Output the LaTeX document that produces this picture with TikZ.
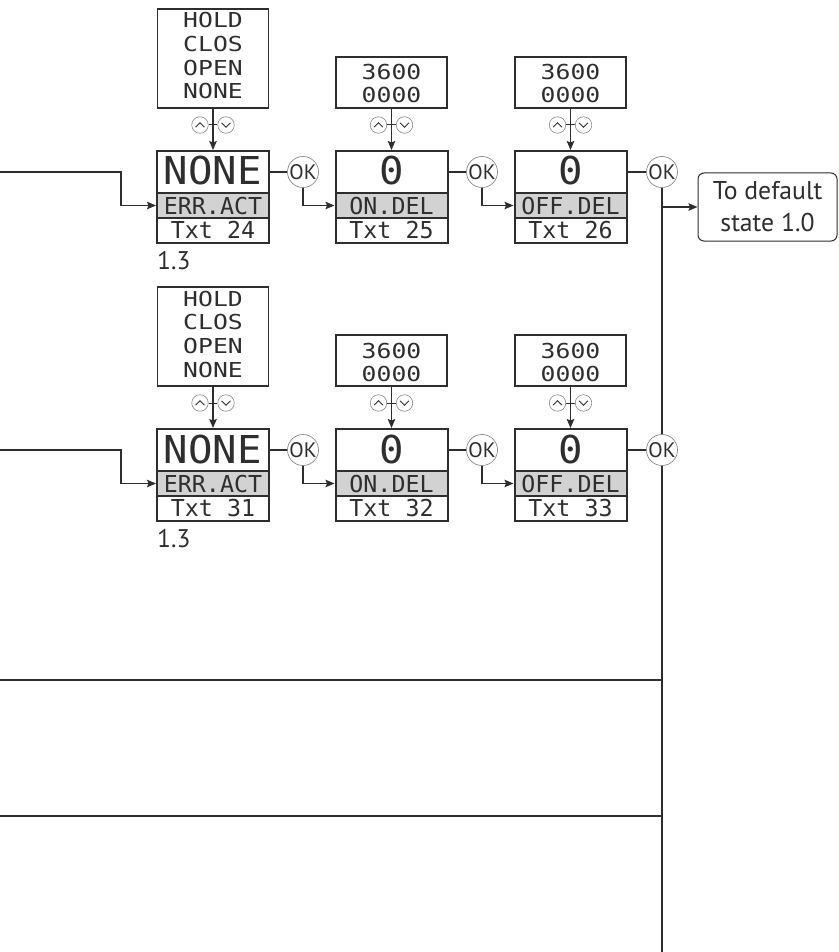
\documentclass[tikz,border=0pt]{standalone}
\usepackage{fontspec}
\setmainfont{PT Sans}
\newfontfamily\lcdwide{DejaVu Sans Mono}[FakeStretch=1.2]
\newfontfamily\lcdbig{DejaVu Sans Mono}[FakeStretch=1.06]
\newfontfamily\lcdmid{DejaVu Sans Mono}
\usetikzlibrary{arrows.meta,calc}
\definecolor{ink}{HTML}{2E2E2E}
\definecolor{lblgray}{HTML}{D2D2D2}
\definecolor{ringgray}{HTML}{8A8A8A}
\tikzset{
  conn/.style={draw=ink, line width=1.3pt},
  arrowline/.style={conn, -{Stealth[length=9pt,width=7.5pt,inset=1.5pt]}},
  optbox/.style={draw=ink, line width=1.2pt, minimum width=111pt, inner sep=0pt, fill=white},
  opttext/.style={anchor=base, inner sep=0pt, text=ink, font=\lcdwide\fontsize{20.6}{24}\selectfont},
  dispbox/.style={draw=ink, line width=2pt, minimum width=112pt, inner sep=0pt, text=ink},
  valbox/.style={dispbox, fill=white, text height=34pt, text depth=8pt, font=\lcdbig\fontsize{38.4}{40}\selectfont},
  lblbox/.style={dispbox, fill=lblgray, text height=21pt, text depth=4pt, font=\lcdmid\fontsize{23.3}{26}\selectfont},
  txtbox/.style={dispbox, fill=white, text height=20pt, text depth=5pt, font=\lcdmid\fontsize{23.3}{26}\selectfont},
  okc/.style={circle, draw=ringgray, line width=0.7pt, fill=white, minimum size=31pt, inner sep=0pt, text=ink, font=\fontsize{21}{22}\selectfont},
  btn/.style={circle, draw=ringgray, line width=0.6pt, fill=white, minimum size=16.5pt, inner sep=0pt},
  chev/.style={draw=ink, line width=0.8pt},
  steplabel/.style={anchor=base west, inner sep=0pt, text=ink, font=\fontsize{25.5}{28}\selectfont},
  defbox/.style={draw=ink, line width=1pt, rounded corners=6pt, minimum width=139pt, minimum height=68pt, inner sep=0pt, align=center, text=ink, font=\fontsize{25.7}{32}\selectfont}
}
\begin{document}
\begin{tikzpicture}[x=1pt,y=-1pt]
\useasboundingbox (0,0) rectangle (838,952);
\fill[white] (0,0) rectangle (838,952);

\foreach \r/\dy/\na/\nb/\nc in {a/0/24/25/26, b/278/31/32/33} {
  % option boxes
  \node[optbox, minimum height=99pt] (o1\r) at (213,58.5+\dy) {};
  \node[opttext] (o1\r x1) at (213,28+\dy) {HOLD};
  \node[opttext] (o1\r x2) at (213,51.5+\dy) {CLOS};
  \node[opttext] (o1\r x3) at (213,75.5+\dy) {OPEN};
  \node[opttext] (o1\r x4) at (213,99+\dy) {NONE};
  \node[optbox, minimum height=51pt] (o2\r) at (391.5,82.5+\dy) {};
  \node[opttext] (o2\r x1) at (391.5,80+\dy) {3600};
  \node[opttext] (o2\r x2) at (391.5,103+\dy) {0000};
  \node[optbox, minimum height=51pt] (o3\r) at (570.5,82.5+\dy) {};
  \node[opttext] (o3\r x1) at (570.5,80+\dy) {3600};
  \node[opttext] (o3\r x2) at (570.5,103+\dy) {0000};
  % displays
  \node[valbox] (v1\r) at (213,172+\dy) {NONE};
  \node[lblbox] (l1\r) at (213,205.5+\dy) {ERR.ACT};
  \node[txtbox] (t1\r) at (213,230.5+\dy) {Txt \na};
  \node[valbox] (v2\r) at (391.5,172+\dy) {0};
  \node[lblbox] (l2\r) at (391.5,205.5+\dy) {ON.DEL};
  \node[txtbox] (t2\r) at (391.5,230.5+\dy) {Txt \nb};
  \node[valbox] (v3\r) at (570.5,172+\dy) {0};
  \node[lblbox] (l3\r) at (570.5,205.5+\dy) {OFF.DEL};
  \node[txtbox] (t3\r) at (570.5,230.5+\dy) {Txt \nc};
  \node[steplabel] (s\r) at (157,269+\dy) {1.3};
  % option arrows with up/down buttons
  \foreach \c/\x in {1/213, 2/391.5, 3/570.5} {
    \draw[arrowline] (o\c\r.south) -- (v\c\r.north);
    \node[btn] (u\c\r) at (\x-13,125+\dy) {};
    \node[btn] (d\c\r) at (\x+13,125+\dy) {};
    \draw[conn, line width=1pt] (u\c\r.east) -- (d\c\r.west);
    \draw[chev] ($(u\c\r)+(-4.5,2.2)$) -- ($(u\c\r)+(0,-2.3)$) -- ($(u\c\r)+(4.5,2.2)$);
    \draw[chev] ($(d\c\r)+(-4.5,-2.2)$) -- ($(d\c\r)+(0,2.3)$) -- ($(d\c\r)+(4.5,-2.2)$);
  }
  % OK buttons
  \node[okc] (k1\r) at (303,172+\dy) {OK};
  \node[okc] (k2\r) at (482,172+\dy) {OK};
  \node[okc] (k3\r) at (662,172+\dy) {OK};
  \draw[conn] (v1\r.east) -- (k1\r.west);
  \draw[conn] (v2\r.east) -- (k2\r.west);
  \draw[conn] (v3\r.east) -- (k3\r.west);
  \draw[arrowline] (k1\r.south) |- (l2\r.west);
  \draw[arrowline] (k2\r.south) |- (l3\r.west);
  % incoming line from the left
  \coordinate (in\r) at (0,172+\dy);
  \coordinate (bend\r) at (121,172+\dy);
  \draw[arrowline] (in\r) -- (bend\r) |- (l1\r.west);
}

% default state box
\node[defbox] (def) at (767.5,207) {To default\\state 1.0};
\draw[arrowline] (k3a.south |- def.west) -- (def.west);

% right vertical bus
\coordinate (bot) at (662,952);
\draw[conn] (k3a.south) -- (k3b.north);
\draw[conn] (k3b.south) -- (bot);

% horizontal separators
\coordinate (h1) at (0,680);
\coordinate (h2) at (0,816);
\draw[conn] (h1) -- (h1 -| bot);
\draw[conn] (h2) -- (h2 -| bot);
\end{tikzpicture}
\end{document}
